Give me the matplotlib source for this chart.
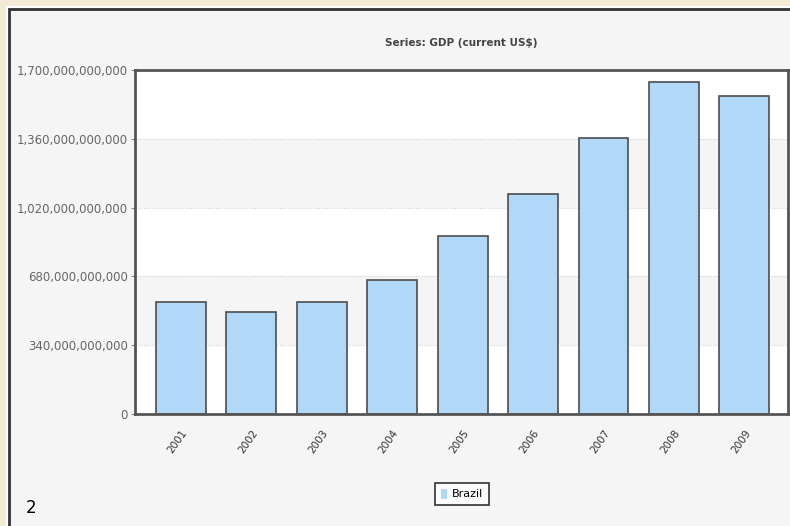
import matplotlib
matplotlib.use("Agg")
import matplotlib.pyplot as plt
from matplotlib.patches import Rectangle
from matplotlib.ticker import FuncFormatter

years = ["2001", "2002", "2003", "2004", "2005", "2006", "2007", "2008", "2009"]
gdp = [553e9, 504e9, 553e9, 662e9, 882e9, 1089e9, 1366e9, 1641e9, 1572e9]
yticks = [0, 340e9, 680e9, 1020e9, 1360e9, 1700e9]
series_name = "Brazil"
title = "Series: GDP (current US$)"

W, H = 790, 526
fig = plt.figure(figsize=(W / 100, H / 100), dpi=100, facecolor="#f3ead5")

# panel frame
fig.patches.append(Rectangle((6 / W, 0), 1, 1 - 6 / H, transform=fig.transFigure,
                             facecolor="white", edgecolor="none", zorder=-10))
fig.patches.append(Rectangle((9 / W, -0.01), 1, 1 - 9 / H + 0.01, transform=fig.transFigure,
                             facecolor="#f5f5f5", edgecolor="#333333", lw=2, zorder=-9))

ax = fig.add_axes([135 / W, (H - 414) / H, 653 / W, 344 / H])
ax.set_facecolor("white")

# alternating bands
for i in range(len(yticks) - 1):
    if i % 2 == 1:
        ax.axhspan(yticks[i], yticks[i + 1], color="#f5f5f5", zorder=0, lw=0)
for t in yticks[1:-1]:
    ax.axhline(t, color="#cfcfcf", lw=0.8, ls=(0, (1, 1.5)), zorder=0.5)

x = list(range(len(years)))
ax.bar(x, gdp, width=0.71, color="#b1d8f6", edgecolor="#4d4d4d", lw=1.2,
       label=series_name, zorder=2)

ax.set_xlim(-0.653, 8.62)
ax.set_ylim(0, 1700e9)
ax.set_yticks(yticks)
ax.yaxis.set_major_formatter(FuncFormatter(lambda v, p: f"{v:,.0f}"))
ax.set_xticks(x)
ax.set_xticklabels(years, rotation=55, ha="right", va="top", rotation_mode="anchor",
                   fontsize=7.5, color="#333333")
ax.tick_params(axis="y", labelsize=8.5, labelcolor="#666666", length=3, color="#888888", pad=2)
ax.tick_params(axis="x", length=0, pad=10)
for lbl in ax.get_xticklabels():
    lbl.set_x(lbl.get_position()[0])
for s in ax.spines.values():
    s.set_color("#555555")
    s.set_linewidth(2)

fig.text(461 / W, 1 - 43 / H, title, ha="center", va="center", fontsize=7.5,
         fontweight="bold", color="#444444")

leg = ax.legend(loc="center", bbox_to_anchor=(462 / W, 1 - 494 / H),
                bbox_transform=fig.transFigure, fontsize=8, frameon=True,
                fancybox=False, handlelength=0.6, handleheight=1.0, handletextpad=0.4,
                borderpad=0.5)
leg.get_frame().set_edgecolor("black")
leg.get_frame().set_linewidth(1.2)
leg.get_frame().set_facecolor("white")
for h in leg.legend_handles:
    h.set_edgecolor("none")

fig.text(26 / W, 1 - 508 / H, "2", ha="left", va="center", fontsize=12, color="black")

fig.savefig("out.png", dpi=100, facecolor=fig.get_facecolor())
